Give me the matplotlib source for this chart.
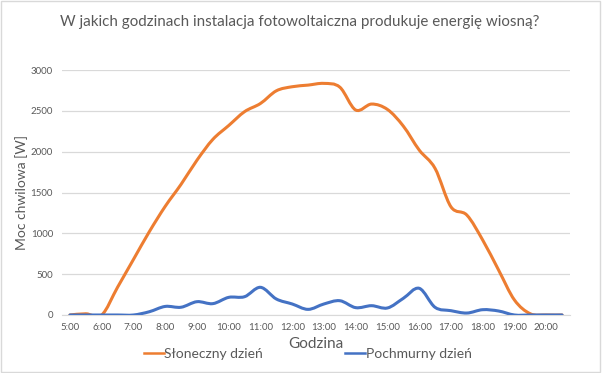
import numpy as np
from matplotlib import pyplot as plt
from matplotlib.path import Path
from matplotlib.patches import PathPatch, Rectangle
from matplotlib.lines import Line2D

# half-hour readings 5:00 .. 20:30
hours = ['5:00', '5:30', '6:00', '6:30', '7:00', '7:30', '8:00', '8:30',
         '9:00', '9:30', '10:00', '10:30', '11:00', '11:30', '12:00', '12:30',
         '13:00', '13:30', '14:00', '14:30', '15:00', '15:30', '16:00', '16:30',
         '17:00', '17:30', '18:00', '18:30', '19:00', '19:30', '20:00', '20:30']
sunny = [0, 15, 0, 340, 680, 1020, 1330, 1600, 1895, 2150, 2320, 2490,
         2590, 2745, 2795, 2815, 2836, 2790, 2510, 2583, 2517, 2313,
         2020, 1795, 1325, 1224, 918, 551, 184, 15, 0, 0]
cloudy = [0, 0, 0, 0, 0, 40, 105, 95, 163, 139, 216, 224,
          339, 196, 135, 69, 135, 175, 90, 114, 86, 204,
          327, 94, 53, 24, 65, 49, 0, 0, 0, 0]

title = 'W jakich godzinach instalacja fotowoltaiczna produkuje energię wiosną?'
c_sun = '#ED7D31'
c_cloud = '#4472C4'
grey = '#595959'

plt.rcParams['font.family'] = ['Lato', 'DejaVu Sans']


def smooth_path(x, y):
    # Catmull-Rom -> cubic bezier, like a smoothed line in a spreadsheet
    x = np.asarray(x, float)
    y = np.asarray(y, float)
    verts = [(x[0], y[0])]
    codes = [Path.MOVETO]
    n = len(x)
    for i in range(n - 1):
        x0, y0 = (x[i - 1], y[i - 1]) if i > 0 else (x[i], y[i])
        x3, y3 = (x[i + 2], y[i + 2]) if i + 2 < n else (x[i + 1], y[i + 1])
        c1 = (x[i] + (x[i + 1] - x0) / 6, y[i] + (y[i + 1] - y0) / 6)
        c2 = (x[i + 1] - (x3 - x[i]) / 6, y[i + 1] - (y3 - y[i]) / 6)
        verts += [c1, c2, (x[i + 1], y[i + 1])]
        codes += [Path.CURVE4] * 3
    return Path(verts, codes)


fig = plt.figure(figsize=(6.02, 3.73), dpi=100)
ax = fig.add_axes([62 / 602, 58 / 373, 508 / 602, 245 / 373])

xs = np.arange(len(hours))
for vals, col in [(sunny, c_sun), (cloudy, c_cloud)]:
    ax.add_patch(PathPatch(smooth_path(xs, vals), facecolor='none',
                           edgecolor=col, lw=2.2, capstyle='round',
                           joinstyle='round', zorder=3))

ax.set_xlim(-0.5, len(hours) - 0.5)
ax.set_ylim(0, 3000)
ax.set_xticks(xs[::2])
ax.set_xticklabels(hours[::2])
ax.set_yticks(range(0, 3001, 500))
ax.tick_params(axis='both', length=0, labelsize=7, colors=grey)
ax.tick_params(axis='x', pad=6)
ax.tick_params(axis='y', pad=6.5)
ax.grid(axis='y', color='#D9D9D9', lw=0.9)
ax.set_axisbelow(True)
for s in ['top', 'right', 'left']:
    ax.spines[s].set_visible(False)
ax.spines['bottom'].set_color('#D9D9D9')

ax.set_ylabel('Moc chwilowa [W]', fontsize=10, color=grey, labelpad=2)
ax.set_xlabel('Godzina', fontsize=11, color=grey, labelpad=3)
fig.text(0.497, 0.94, title, ha='center', va='center', fontsize=10.9, color=grey)

handles = [Line2D([], [], color=c_sun, lw=1.8),
           Line2D([], [], color=c_cloud, lw=1.8)]
fig.legend(handles, ['Słoneczny dzień', 'Pochmurny dzień'], loc='center',
           bbox_to_anchor=(0.511, 0.051), ncol=2, frameon=False, fontsize=10,
           labelcolor=grey, handlelength=1.45, handletextpad=0.05,
           columnspacing=5.9)

fig.patches.append(Rectangle((0.002, 0.003), 0.995, 0.994, transform=fig.transFigure,
                             fill=False, edgecolor='#D9D9D9', lw=1))

fig.savefig('out.png', dpi=100)
